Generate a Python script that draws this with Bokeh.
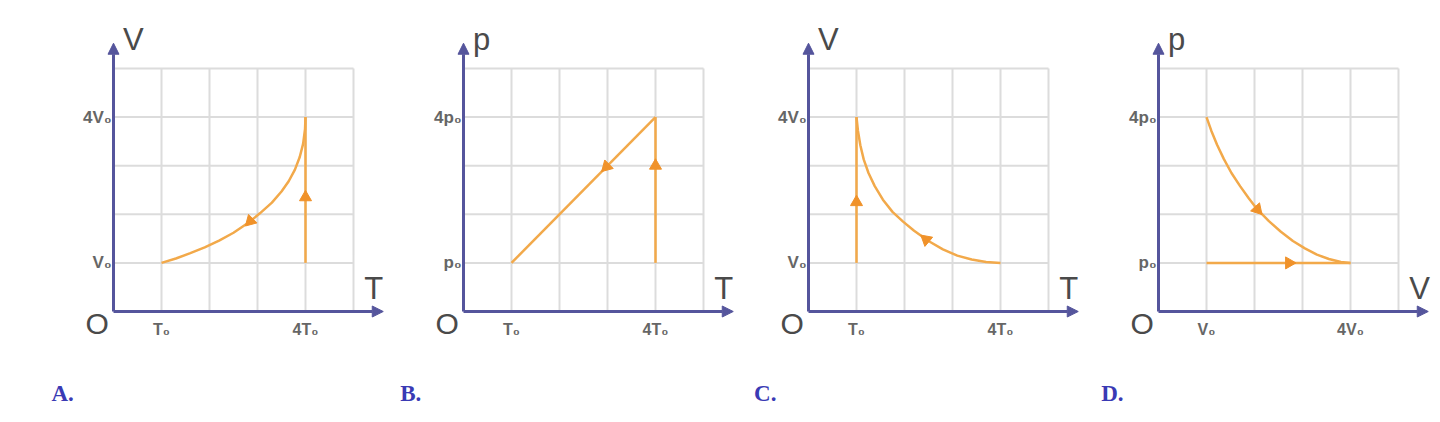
from bokeh.plotting import figure
from bokeh.layouts import row
from bokeh.models import Range1d, Arrow, NormalHead
from bokeh.core.properties import value
from bokeh.embed import file_html
from bokeh.resources import INLINE
import math

# ---------------- data ----------------
panel_names = ["A.", "B.", "C.", "D."]
x_axis_labels = ["T", "T", "T", "V"]
y_axis_labels = ["V", "p", "V", "p"]
x_tick_labels = [["T₀", "4T₀"], ["T₀", "4T₀"], ["T₀", "4T₀"], ["V₀", "4V₀"]]
y_tick_labels = [["V₀", "4V₀"], ["p₀", "4p₀"], ["V₀", "4V₀"], ["p₀", "4p₀"]]
tick_values = [1, 4]
grid_values = [1, 2, 3, 4, 5]

# A: curve (T, V) and vertical segment at T = 4T0
a_curve_x = [1.0, 1.3, 1.6, 1.9, 2.2, 2.5, 2.8, 3.05, 3.3, 3.5, 3.65, 3.78, 3.88, 3.95, 3.99, 4.0]
a_curve_y = [1.0, 1.09, 1.2, 1.32, 1.46, 1.62, 1.82, 2.02, 2.24, 2.47, 2.68, 2.92, 3.18, 3.45, 3.75, 4.0]
a_line_x = [4.0, 4.0]
a_line_y = [1.0, 4.0]
# B: straight line and vertical segment
b_curve_x = [1.0, 4.0]
b_curve_y = [1.0, 4.0]
b_line_x = [4.0, 4.0]
b_line_y = [1.0, 4.0]
# C: curve and vertical segment at T0
c_curve_x = [1.0, 1.03, 1.08, 1.15, 1.25, 1.38, 1.55, 1.75, 1.97, 2.2, 2.5, 2.8, 3.1, 3.4, 3.7, 4.0]
c_curve_y = [4.0, 3.72, 3.42, 3.13, 2.85, 2.58, 2.3, 2.05, 1.85, 1.66, 1.45, 1.28, 1.15, 1.07, 1.02, 1.0]
c_line_x = [1.0, 1.0]
c_line_y = [1.0, 4.0]
# D: curve (V, p) and horizontal segment at p0
d_curve_x = [1.0, 1.1, 1.22, 1.36, 1.52, 1.7, 1.88, 2.06, 2.3, 2.55, 2.8, 3.05, 3.3, 3.55, 3.8, 4.0]
d_curve_y = [4.0, 3.72, 3.43, 3.14, 2.85, 2.58, 2.33, 2.1, 1.86, 1.64, 1.45, 1.3, 1.17, 1.08, 1.02, 1.0]
d_line_x = [1.0, 4.0]
d_line_y = [1.0, 1.0]

# direction markers: (x, y, heading in degrees)
a_marks = [(2.85, 1.86, 225), (4.0, 2.35, 90)]
b_marks = [(2.98, 2.98, 225), (4.0, 3.0, 90)]
c_marks = [(1.0, 2.25, 90), (2.45, 1.48, 140)]
d_marks = [(2.06, 2.1, -48), (2.72, 1.0, 0)]

curves = [(a_curve_x, a_curve_y), (b_curve_x, b_curve_y), (c_curve_x, c_curve_y), (d_curve_x, d_curve_y)]
lines = [(a_line_x, a_line_y), (b_line_x, b_line_y), (c_line_x, c_line_y), (d_line_x, d_line_y)]
marks = [a_marks, b_marks, c_marks, d_marks]

# ---------------- layout ----------------
FIG_W = [395, 350, 345, 342]
FIG_H = 406
PX_X = 48.0
PX_Y = 48.6
origin_px = [113, 68, 63, 68]   # origin x within each figure
origin_py = 311                  # origin y from top of figure
x_arrow_end = [5.62, 5.62, 5.62, 5.62]
x_label_pos = [5.42, 5.42, 5.42, 5.44]
panel_label_pos = [-1.06, -1.1, -0.9, -0.96]

AXIS_C = "#55559c"
GRID_C = "#dcdcdc"
ORANGE = "#f2a94a"
MARK_C = "#f0922a"
TEXT_C = "#4a4a4a"
TICK_C = "#666666"
LABEL_C = "#3a3ab4"

figs = []
for i in range(4):
    ox = origin_px[i]
    w = FIG_W[i]
    p = figure(width=w, height=FIG_H, output_backend="svg", toolbar_location=None,
               x_range=Range1d(-ox / PX_X, (w - ox) / PX_X),
               y_range=Range1d(-(FIG_H - origin_py) / PX_Y, origin_py / PX_Y),
               min_border=0)
    p.axis.visible = False
    p.xgrid.visible = False
    p.ygrid.visible = False
    p.outline_line_color = None
    p.background_fill_color = "white"
    p.border_fill_color = "white"

    n = len(grid_values)
    p.segment(x0=grid_values, y0=[0] * n, x1=grid_values, y1=[5] * n,
              line_color=GRID_C, line_width=2)
    p.segment(x0=[0] * n, y0=grid_values, x1=[5] * n, y1=grid_values,
              line_color=GRID_C, line_width=2)

    # axes with arrow heads
    p.add_layout(Arrow(end=NormalHead(size=11, fill_color=AXIS_C, line_color=AXIS_C),
                       x_start=0, y_start=0, x_end=x_arrow_end[i], y_end=0,
                       line_color=AXIS_C, line_width=3))
    p.add_layout(Arrow(end=NormalHead(size=11, fill_color=AXIS_C, line_color=AXIS_C),
                       x_start=0, y_start=0, x_end=0, y_end=5.52,
                       line_color=AXIS_C, line_width=3))

    # process lines
    cx, cy = curves[i]
    lx, ly = lines[i]
    p.line(cx, cy, line_color=ORANGE, line_width=2.5)
    p.line(lx, ly, line_color=ORANGE, line_width=2.5)

    mx = [m[0] for m in marks[i]]
    my = [m[1] for m in marks[i]]
    ma = [math.radians(m[2] - 90) for m in marks[i]]
    p.scatter(mx, my, marker="triangle", size=12, angle=ma,
              fill_color=MARK_C, line_color=MARK_C)

    # axis letters
    p.text(x=[0.2], y=[5.6], text=[y_axis_labels[i]], text_font=value("Liberation Sans"),
           text_font_size="31px", text_color=TEXT_C, text_align="left", text_baseline="middle")
    p.text(x=[x_label_pos[i]], y=[0.47], text=[x_axis_labels[i]], text_font=value("Liberation Sans"),
           text_font_size="31px", text_color=TEXT_C, text_align="center", text_baseline="middle")
    p.text(x=[-0.34], y=[-0.24], text=["O"], text_font=value("Liberation Sans"),
           text_font_size="30px", text_color=TEXT_C, text_align="center", text_baseline="middle")

    # tick labels
    p.text(x=tick_values, y=[-0.38, -0.38], text=x_tick_labels[i], text_font=value("Liberation Sans"),
           text_font_style="bold", text_font_size="16px", text_color=TICK_C,
           text_align="center", text_baseline="middle")
    p.text(x=[-0.04, -0.04], y=tick_values, text=y_tick_labels[i], text_font=value("Liberation Sans"),
           text_font_style="bold", text_font_size="17px", text_color=TICK_C,
           text_align="right", text_baseline="middle")

    # panel label
    p.text(x=[panel_label_pos[i]], y=[-1.69], text=[panel_names[i]], text_font=value("Liberation Serif"),
           text_font_style="bold", text_font_size="23px", text_color=LABEL_C,
           text_align="center", text_baseline="middle")
    figs.append(p)

layout = row(*figs, spacing=0)
open("out.html", "w").write(file_html(layout, INLINE))
